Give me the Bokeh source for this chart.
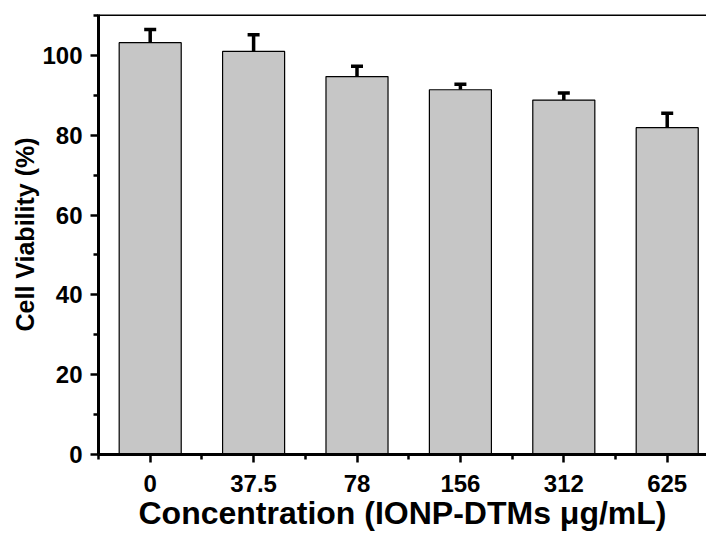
from bokeh.plotting import figure
from bokeh.models import (Range1d, FixedTicker, Whisker, TeeHead, Span,
                          ColumnDataSource)
from bokeh.embed import file_html
from bokeh.resources import INLINE

# Data
concentrations = ["0", "37.5", "78", "156", "312", "625"]
viability = [103.2, 101.0, 94.7, 91.4, 88.8, 81.9]
errors = [3.3, 4.2, 2.6, 1.4, 1.8, 3.6]
y_ticks = [0, 20, 40, 60, 80, 100]
Y_MAX = 110.25

xs = list(range(len(concentrations)))
upper = [v + e for v, e in zip(viability, errors)]
src = ColumnDataSource(dict(x=xs, top=viability, upper=upper))

FONT = "Liberation Sans"

p = figure(width=706, height=533, output_backend="svg", toolbar_location=None,
           x_range=Range1d(-0.5, 5.38), y_range=Range1d(0, Y_MAX),
           min_border_left=98, min_border_right=0, min_border_top=14,
           min_border_bottom=10)
p.outline_line_color = None
p.grid.visible = False
p.background_fill_color = "white"

p.vbar(x="x", top="top", width=0.6, bottom=0, source=src,
       fill_color="#c6c6c6", line_color="black", line_width=1.2)

w = Whisker(base="x", lower="top", upper="upper", source=src,
            line_color="black", line_width=3.5,
            upper_head=TeeHead(size=12, line_color="black", line_width=3.5),
            lower_head=None)
p.add_layout(w)

# x axis
xa = p.xaxis[0]
xa.ticker = FixedTicker(ticks=xs, minor_ticks=[i - 0.5 for i in range(len(xs) + 1)])
xa.major_label_overrides = {i: c for i, c in enumerate(concentrations)}
xa.axis_label = "Concentration (IONP-DTMs \u03bcg/mL)"

# y axis
ya = p.yaxis[0]
ya.ticker = FixedTicker(ticks=y_ticks, minor_ticks=[t + 10 for t in y_ticks])
ya.axis_label = "Cell Viability (%)"

for ax in (xa, ya):
    ax.axis_line_width = 3
    ax.axis_line_color = "black"
    ax.major_tick_line_width = 2.5
    ax.minor_tick_line_width = 2.5
    ax.major_tick_line_color = "black"
    ax.minor_tick_line_color = "black"
    ax.major_tick_out = 8
    ax.major_tick_in = 0
    ax.minor_tick_out = 5
    ax.minor_tick_in = 0
    ax.major_label_text_font = FONT
    ax.major_label_text_font_style = "bold"
    ax.major_label_text_font_size = "24px"
    ax.major_label_text_color = "black"
    ax.axis_label_text_font = FONT
    ax.axis_label_text_font_style = "bold"
    ax.axis_label_text_color = "black"

xa.major_label_standoff = 12
xa.axis_label_text_font_size = "32px"
xa.axis_label_standoff = 0
ya.major_label_standoff = 8
ya.axis_label_text_font_size = "25px"
ya.axis_label_standoff = 0

# top frame line
p.add_layout(Span(location=Y_MAX, dimension="width", line_color="black",
                  line_width=3))

open("out.html", "w").write(file_html(p, INLINE))
